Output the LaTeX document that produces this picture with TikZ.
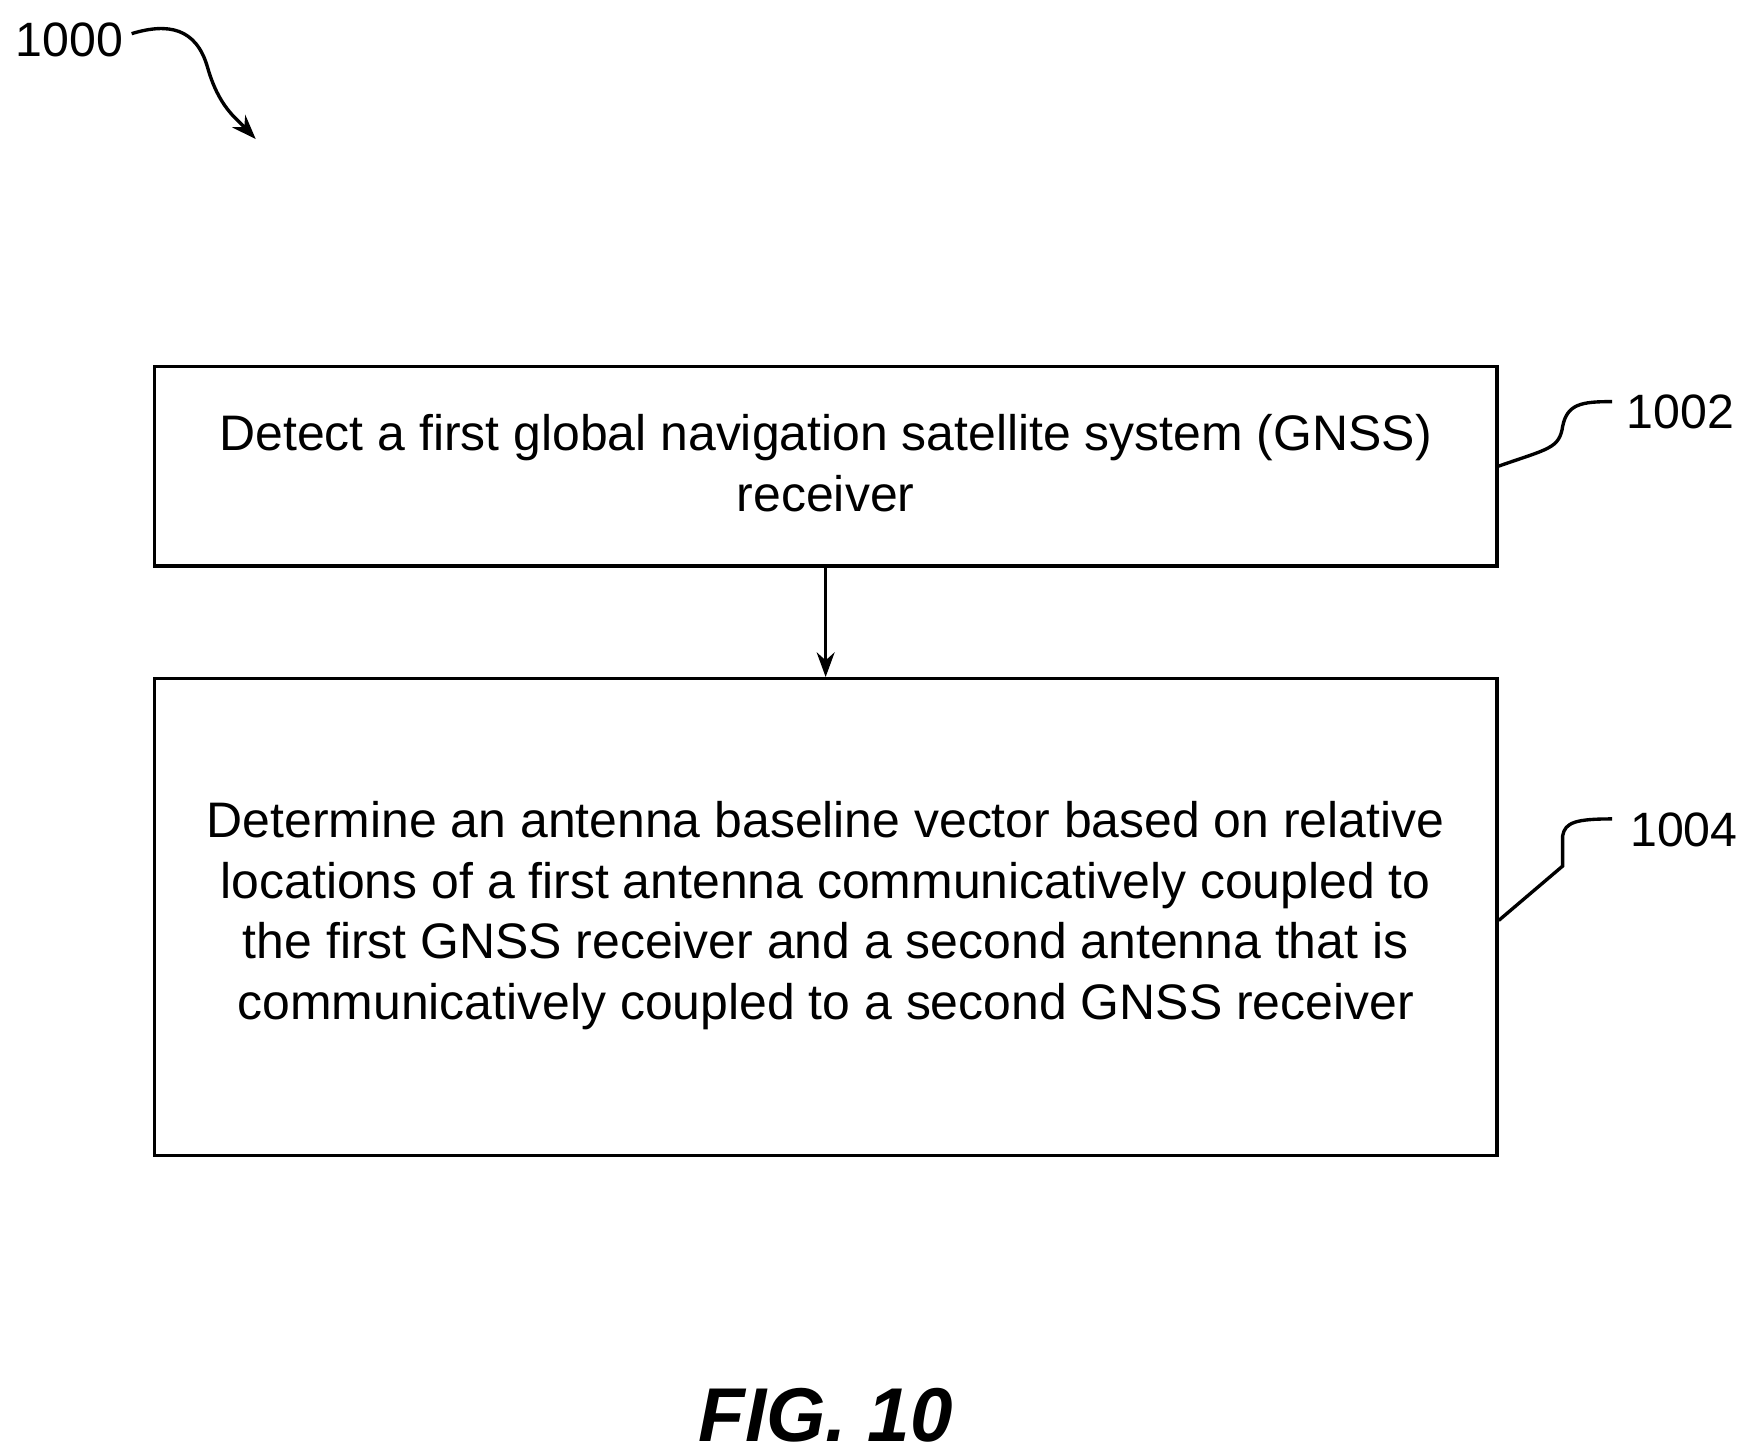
\documentclass[tikz,border=0pt]{standalone}
\usepackage{fontspec}
\usetikzlibrary{arrows.meta}
\setmainfont{Liberation Sans}
\begin{document}
\begin{tikzpicture}[x=1pt,y=-1pt,
  box/.style={draw,line width=3pt,inner sep=0pt},
  txt/.style={font=\fontsize{44.5}{54}\selectfont,align=center},
  lbl/.style={font=\fontsize{43}{48}\selectfont},
  lead/.style={line width=3pt},
  tip/.style={-{Stealth[length=22pt,width=16pt]}}]
\useasboundingbox (0,0) rectangle (1560,1297);
\node[box,minimum width=1197pt,minimum height=178pt] (b1) at (736,415.5) {};
\node[txt] (t1) at (736,413) {Detect a first global navigation satellite system (GNSS)\\receiver};
\node[box,minimum width=1197pt,minimum height=425pt] (b2) at (736,817.5) {};
\node[txt] (t2) at (736,816) {Determine an antenna baseline vector based on relative\\locations of a first antenna communicatively coupled to\\the first GNSS receiver and a second antenna that is\\communicatively coupled to a second GNSS receiver};
\draw[line width=2.5pt,tip] (b1.south) -- (b2.north);
\node[lbl] (l0) at (62,36) {1000};
\coordinate (a0) at (228,124);
\draw[lead,tip] (l0.east) ++(4,-6) .. controls (150,20) and (175,25) .. (185,60) .. controls (195,95) and (210,105) .. (a0);
\node[lbl] (l2) at (1498,367) {1002};
\draw[lead] (b1.east) .. controls (1380,400) and (1390,400) .. (1393,380) .. controls (1397,360) and (1410,358) .. (1437,358);
\node[lbl] (l4) at (1501,740) {1004};
\draw[lead] ([yshift=-3pt]b2.east) -- (1393,772) -- (1393,745) .. controls (1395,733) and (1405,730) .. (1437,730);
\node[font=\fontsize{68}{70}\selectfont\bfseries\itshape] (fig) at (736,1262) {FIG. 10};
\end{tikzpicture}
\end{document}
